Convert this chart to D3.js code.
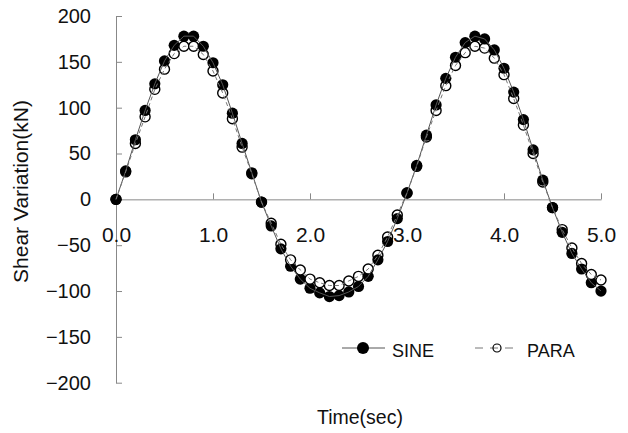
<!DOCTYPE html>
<html><head><meta charset="utf-8">
<script src="https://cdn.jsdelivr.net/npm/d3@7"></script>
<style>body{margin:0;background:#fff}svg{display:block}text{font-family:"Liberation Sans",Arial,sans-serif;fill:#111}</style>
</head><body><svg id="c" width="628" height="433"></svg>
<script>
const times = [0.0,0.1,0.2,0.3,0.4,0.5,0.6,0.7,0.8,0.9,1.0,1.1,1.2,1.3,1.4,1.5,1.6,1.7,1.8,1.9,2.0,2.1,2.2,2.3,2.4,2.5,2.6,2.7,2.8,2.9,3.0,3.1,3.2,3.3,3.4,3.5,3.6,3.7,3.8,3.9,4.0,4.1,4.2,4.3,4.4,4.5,4.6,4.7,4.8,4.9,5.0];
const sine = [0,31,65,97,126,151,168,178,178,167,149,125,94,61,29,-3,-29,-54,-73,-87,-97,-102,-106,-105,-101,-95,-84,-66,-46,-21,7,37,70,103,132,155,171,178,175,163,143,117,87,54,21,-9,-36,-59,-76,-91,-100];
const para = [0,30,61,90,120,142,159,167,167,158,140,116,88,57,28,-3,-26,-49,-66,-77,-87,-91,-94,-94,-89,-84,-76,-61,-41,-17,7,36,68,97,124,146,160,167,165,154,136,110,81,50,19,-9,-33,-53,-70,-82,-88];
const xTicks = [0,1,2,3,4,5];
const yTicks = [-200,-150,-100,-50,0,50,100,150,200];
const seriesNames = ["SINE","PARA"];
const xTitle = "Time(sec)";
const yTitle = "Shear Variation(kN)";

const svg = d3.select("#c");
const x = d3.scaleLinear().domain([0,5]).range([116,601]);
const y = d3.scaleLinear().domain([-200,200]).range([382.7,16]);
const axisColor = "#888";

// Y axis
const ya = svg.append("g").attr("transform",`translate(${x(0)},0)`)
  .call(d3.axisLeft(y).tickValues(yTicks).tickSizeInner(-6).tickSizeOuter(0).tickPadding(25));
ya.selectAll("path,line").attr("stroke",axisColor);
ya.selectAll("text").attr("font-size",20).attr("fill","#111").attr("font-family","Liberation Sans, Arial, sans-serif");

// X axis
const xa = svg.append("g").attr("transform",`translate(0,${y(0)})`)
  .call(d3.axisBottom(x).tickValues(xTicks).tickFormat(d3.format(".1f")).tickSizeInner(-6).tickSizeOuter(0).tickPadding(28));
xa.selectAll("path,line").attr("stroke",axisColor);
xa.selectAll("text").attr("font-size",21).attr("fill","#111").attr("font-family","Liberation Sans, Arial, sans-serif");

// markers: filled drawn on top, unless the open one sits clearly above it
const marks = [];
times.forEach((t,i)=>{
  const openOnTop = (para[i] - sine[i]) > 6;
  const f = {t, v:sine[i], s:0}, o = {t, v:para[i], s:1};
  if (openOnTop) marks.push(f, o); else marks.push(o, f);
});
svg.append("g").selectAll("circle").data(marks).join("circle")
  .attr("cx",d=>x(d.t)).attr("cy",d=>y(d.v)).attr("r",d=>d.s===0?5.6:5)
  .attr("fill",d=>d.s===0?"#000":"#fff")
  .attr("stroke","#000").attr("stroke-width",d=>d.s===0?0:1.4);

// lines
const line = d3.line().x((d,i)=>x(times[i])).y(d=>y(d));
svg.append("path").datum(sine).attr("d",line).attr("fill","none").attr("stroke","#555").attr("stroke-width",1);
svg.append("path").datum(para).attr("d",line).attr("fill","none").attr("stroke","#777").attr("stroke-width",1).attr("stroke-dasharray","4,3");

// legend
const lg = svg.append("g");
lg.append("line").attr("x1",342).attr("x2",385).attr("y1",348).attr("y2",348).attr("stroke","#555");
lg.append("circle").attr("cx",363).attr("cy",348).attr("r",6).attr("fill","#000");
lg.append("text").attr("x",392).attr("y",356.5).attr("font-size",18).text(seriesNames[0]);
lg.append("line").attr("x1",475).attr("x2",519).attr("y1",348).attr("y2",348).attr("stroke","#777").attr("stroke-dasharray","8,7");
lg.append("circle").attr("cx",497).attr("cy",348).attr("r",4).attr("fill","none").attr("stroke","#000").attr("stroke-width",1.2);
lg.append("text").attr("x",527).attr("y",356.5).attr("font-size",18).text(seriesNames[1]);

// titles
svg.append("text").attr("x",360).attr("y",424).attr("text-anchor","middle").attr("font-size",19.5).text(xTitle);
svg.append("text").attr("transform","translate(28,191.5) rotate(-90)").attr("text-anchor","middle").attr("font-size",21).text(yTitle);
</script></body></html>
